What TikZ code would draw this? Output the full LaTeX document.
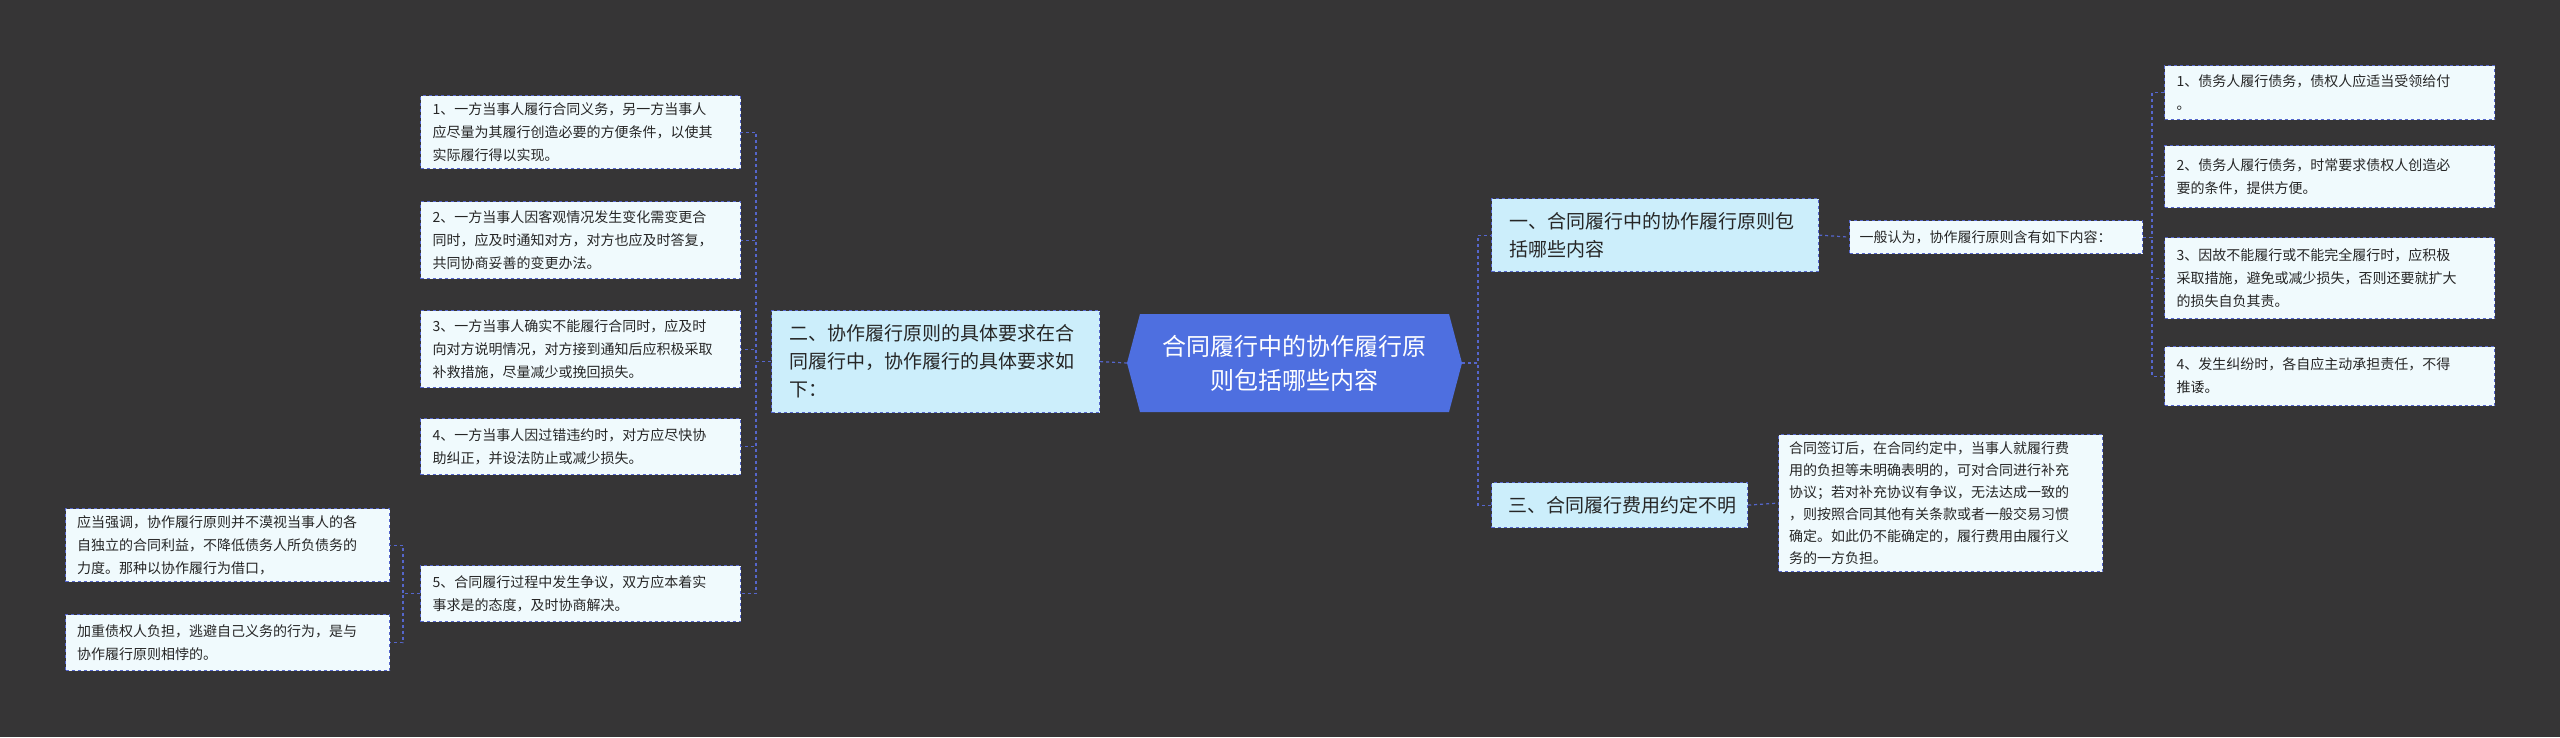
\documentclass[tikz,border=0pt]{standalone}
\usepackage{fontspec}
\setmainfont{Noto Sans CJK SC}
\usetikzlibrary{calc}
\definecolor{bg}{HTML}{363536}
\definecolor{ln}{HTML}{5566CC}
\definecolor{leaf}{HTML}{F0FAFD}
\definecolor{lvl}{HTML}{CCEEFB}
\definecolor{ctr}{HTML}{4E6FE0}
\begin{document}
\begin{tikzpicture}[x=1pt,y=-1pt,
  base/.style={draw=ln,dashed,line width=1.2pt,anchor=north west,inner sep=0pt,align=left,text=black!85},
  leafbox/.style={base,fill=leaf,font=\fontsize{14}{23}\selectfont},
  lvlbox/.style={base,fill=lvl,font=\fontsize{19}{28}\selectfont},
  conn/.style={draw=ln,dashed,line width=1.2pt}]
\fill[bg] (0,0) rectangle (2560,737);
\useasboundingbox (0,0) rectangle (2560,737);
% center
\node[text=white,font=\fontsize{24}{34}\selectfont,align=center] (c) at (1294,363) {合同履行中的协作履行原\\则包括哪些内容};
\fill[ctr] (1140,314) -- (1449,314) -- (1462,363) -- (1449,412) -- (1140,412) -- (1127,363) -- cycle;
\node[text=white,font=\fontsize{24}{34}\selectfont,align=center] at (1294,363) {合同履行中的协作履行原\\则包括哪些内容};
% level 1
\node[lvlbox,minimum width=328pt,minimum height=102pt,text width=310pt] (er) at (771,310) {\hspace*{9pt}二、协作履行原则的具体要求在合\\\hspace*{9pt}同履行中，协作履行的具体要求如\\\hspace*{9pt}下：};
\node[lvlbox,minimum width=327pt,minimum height=73pt,text width=310pt] (yi) at (1491,198) {\hspace*{9pt}一、合同履行中的协作履行原则包\\\hspace*{9pt}括哪些内容};
\node[lvlbox,minimum width=256pt,minimum height=45pt,text width=240pt] (san) at (1491,482) {\hspace*{9pt}三、合同履行费用约定不明};
% left leaves
\node[leafbox,minimum width=320pt,minimum height=73pt,text width=310pt] (L1) at (420,95) {\hspace*{7pt}1、一方当事人履行合同义务，另一方当事人\\\hspace*{7pt}应尽量为其履行创造必要的方便条件，以使其\\\hspace*{7pt}实际履行得以实现。};
\node[leafbox,minimum width=320pt,minimum height=77pt,text width=310pt] (L2) at (420,201) {\hspace*{7pt}2、一方当事人因客观情况发生变化需变更合\\\hspace*{7pt}同时，应及时通知对方，对方也应及时答复，\\\hspace*{7pt}共同协商妥善的变更办法。};
\node[leafbox,minimum width=320pt,minimum height=77pt,text width=310pt] (L3) at (420,310) {\hspace*{7pt}3、一方当事人确实不能履行合同时，应及时\\\hspace*{7pt}向对方说明情况，对方接到通知后应积极采取\\\hspace*{7pt}补救措施，尽量减少或挽回损失。};
\node[leafbox,minimum width=320pt,minimum height=56pt,text width=310pt] (L4) at (420,418) {\hspace*{7pt}4、一方当事人因过错违约时，对方应尽快协\\\hspace*{7pt}助纠正，并设法防止或减少损失。};
\node[leafbox,minimum width=320pt,minimum height=56pt,text width=310pt] (L5) at (420,565) {\hspace*{7pt}5、合同履行过程中发生争议，双方应本着实\\\hspace*{7pt}事求是的态度，及时协商解决。};
\node[leafbox,minimum width=324pt,minimum height=73pt,text width=315pt] (A) at (65,508) {\hspace*{7pt}应当强调，协作履行原则并不漠视当事人的各\\\hspace*{7pt}自独立的合同利益，不降低债务人所负债务的\\\hspace*{7pt}力度。那种以协作履行为借口，};
\node[leafbox,minimum width=324pt,minimum height=56pt,text width=315pt] (B) at (65,614) {\hspace*{7pt}加重债权人负担，逃避自己义务的行为，是与\\\hspace*{7pt}协作履行原则相悖的。};
% right leaves
\node[leafbox,minimum width=293pt,minimum height=33pt,text width=285pt] (gen) at (1849,220) {\hspace*{6pt}一般认为，协作履行原则含有如下内容：};
\node[leafbox,minimum width=330pt,minimum height=54pt,text width=320pt] (R1) at (2164,65) {\hspace*{7pt}1、债务人履行债务，债权人应适当受领给付\\\hspace*{7pt}。};
\node[leafbox,minimum width=330pt,minimum height=62pt,text width=320pt] (R2) at (2164,145) {\hspace*{7pt}2、债务人履行债务，时常要求债权人创造必\\\hspace*{7pt}要的条件，提供方便。};
\node[leafbox,minimum width=330pt,minimum height=81pt,text width=320pt] (R3) at (2164,237) {\hspace*{7pt}3、因故不能履行或不能完全履行时，应积极\\\hspace*{7pt}采取措施，避免或减少损失，否则还要就扩大\\\hspace*{7pt}的损失自负其责。};
\node[leafbox,minimum width=330pt,minimum height=59pt,text width=320pt] (R4) at (2164,346) {\hspace*{7pt}4、发生纠纷时，各自应主动承担责任，不得\\\hspace*{7pt}推诿。};
\node[leafbox,minimum width=324pt,minimum height=137pt,text width=315pt,font=\fontsize{14}{22}\selectfont] (S) at (1778,434) {\hspace*{6pt}合同签订后，在合同约定中，当事人就履行费\\\hspace*{6pt}用的负担等未明确表明的，可对合同进行补充\\\hspace*{6pt}协议；若对补充协议有争议，无法达成一致的\\\hspace*{6pt}，则按照合同其他有关条款或者一般交易习惯\\\hspace*{6pt}确定。如此仍不能确定的，履行费用由履行义\\\hspace*{6pt}务的一方负担。};
% bracket coordinates
\coordinate (bL) at (756,0);
\coordinate (bA) at (403,0);
\coordinate (bC) at (1478,0);
\coordinate (bR) at (2152,0);
\coordinate (cw) at (1127,363);
\coordinate (ce) at (1462,363);
% connectors
\draw[conn] (cw) -- (er.east);
\foreach \n in {L1,L2,L3,L4,L5} \draw[conn] (er.west) -- (er.west -| bL) |- (\n.east);
\foreach \n in {A,B} \draw[conn] (L5.west) -- (L5.west -| bA) |- (\n.east);
\foreach \n in {yi,san} \draw[conn] (ce) -- (ce -| bC) |- (\n.west);
\draw[conn] (yi.east) -- (gen.west);
\draw[conn] (san.east) -- (S.west);
\foreach \n in {R1,R2,R3,R4} \draw[conn] (gen.east) -- (gen.east -| bR) |- (\n.west);
\end{tikzpicture}
\end{document}
